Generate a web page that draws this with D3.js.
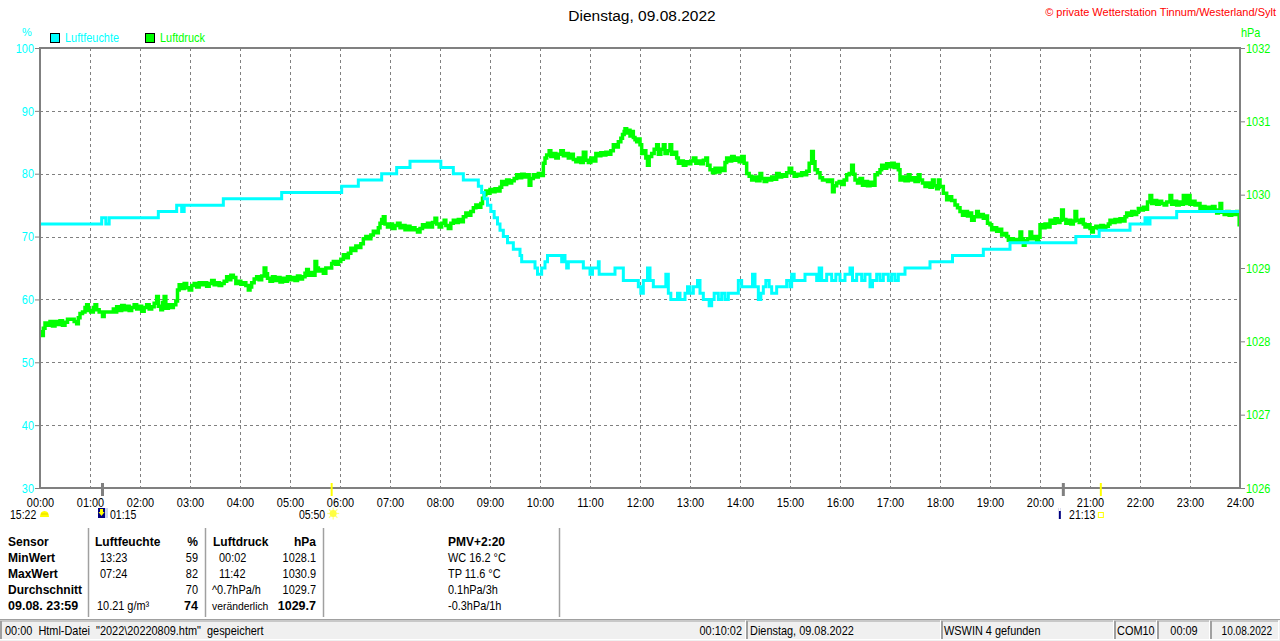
<!DOCTYPE html>
<html><head><meta charset="utf-8">
<script src="https://cdn.jsdelivr.net/npm/d3@7"></script>
<style>
html,body{margin:0;padding:0;background:#fff;}
svg{display:block;font-family:"Liberation Sans",Arial,sans-serif;}
text{white-space:pre;}
</style></head>
<body><svg id="c" width="1280" height="641"></svg>
<script>
// ---------- data ----------
const title = "Dienstag, 09.08.2022";
const copyright = "© private Wetterstation Tinnum/Westerland/Sylt";
const hourTicks = d3.range(0, 25).map(h => h * 60);
const hourLabels = hourTicks.map(m => String(m / 60).padStart(2, "0") + ":00");
const humidityTicks = [30, 40, 50, 60, 70, 80, 90, 100];
const pressureTicks = [1026, 1027, 1028, 1029, 1030, 1031, 1032];
const seriesNames = ["Luftfeuchte", "Luftdruck"];

// humidity (%) : [minute of day, value]
const humidity = [[0,72],[74,73],[79,72],[83,73],[142,74],[164,75],[170,74],[173,75],[220,76],[290,77],[362,78],[382,79],[410,80],[428,81],[444,82],[481,81],[496,80],[508,79],[526,78],[530,77],[533,76],[537,75],[541,74],[545,73],[549,72],[552,71],[556,70],[561,69],[568,68],[576,67],[578,66],[594,65],[597,64],[602,65],[606,66],[609,67],[626,66],[628,67],[630,66],[632,65],[634,66],[652,65],[660,64],[663,65],[670,66],[671,64],[690,65],[700,63],[718,62],[721,61],[724,63],[729,65],[732,63],[736,62],[751,64],[754,61],[757,60],[765,61],[768,60],[774,61],[777,62],[780,61],[784,62],[789,63],[792,61],[796,60],[803,59],[806,60],[809,61],[814,60],[818,61],[822,60],[826,61],[838,63],[842,62],[855,64],[858,62],[862,60],[865,61],[868,62],[871,63],[875,62],[878,61],[884,62],[896,63],[900,62],[902,64],[905,63],[918,64],[932,63],[935,65],[938,63],[944,64],[950,63],[955,64],[960,63],[966,64],[972,65],[975,63],[980,64],[986,63],[990,64],[996,62],[999,63],[1004,64],[1008,63],[1012,64],[1018,63],[1022,64],[1026,63],[1030,64],[1038,65],[1068,66],[1095,67],[1132,68],[1164,69],[1243,70],[1271,71],[1308,72],[1326,73],[1329,72],[1332,73],[1364,74],[1440,74]];

// pressure (hPa) : [minute of day, value]
const pressure = [[0,1028.13],[2,1028.08],[4,1028.18],[6,1028.25],[9,1028.22],[12,1028.27],[15,1028.21],[18,1028.27],[21,1028.23],[24,1028.28],[27,1028.22],[30,1028.26],[33,1028.30],[37,1028.30],[41,1028.27],[44,1028.24],[46,1028.32],[48,1028.38],[51,1028.40],[54,1028.46],[56,1028.50],[58,1028.42],[61,1028.40],[64,1028.46],[66,1028.50],[68,1028.43],[71,1028.40],[75,1028.34],[77,1028.40],[80,1028.40],[86,1028.40],[88,1028.44],[90,1028.40],[92,1028.47],[95,1028.42],[98,1028.49],[101,1028.43],[104,1028.48],[107,1028.42],[110,1028.46],[113,1028.50],[116,1028.44],[119,1028.48],[122,1028.41],[125,1028.46],[128,1028.50],[131,1028.44],[134,1028.47],[137,1028.52],[140,1028.61],[142,1028.48],[145,1028.43],[147,1028.53],[149,1028.61],[151,1028.45],[154,1028.50],[157,1028.46],[160,1028.50],[163,1028.55],[165,1028.70],[167,1028.77],[170,1028.72],[173,1028.79],[176,1028.73],[179,1028.70],[182,1028.76],[185,1028.79],[188,1028.74],[191,1028.80],[194,1028.77],[197,1028.80],[200,1028.75],[203,1028.79],[206,1028.83],[209,1028.77],[212,1028.80],[215,1028.76],[218,1028.79],[221,1028.82],[224,1028.88],[226,1028.84],[229,1028.90],[232,1028.87],[235,1028.79],[238,1028.82],[241,1028.78],[244,1028.80],[247,1028.76],[250,1028.70],[252,1028.74],[254,1028.80],[257,1028.85],[260,1028.88],[263,1028.84],[266,1028.89],[269,1029.00],[271,1028.92],[273,1028.86],[276,1028.82],[279,1028.88],[282,1028.83],[285,1028.87],[288,1028.81],[291,1028.86],[294,1028.82],[297,1028.88],[300,1028.84],[303,1028.87],[306,1028.83],[309,1028.89],[312,1028.85],[315,1028.88],[318,1028.93],[320,1028.98],[322,1028.90],[324,1028.94],[327,1028.90],[330,1029.09],[332,1029.00],[334,1028.96],[337,1028.98],[340,1028.93],[343,1029.00],[346,1029.00],[350,1029.06],[352,1029.09],[355,1029.05],[358,1029.09],[361,1029.12],[364,1029.18],[367,1029.14],[370,1029.20],[373,1029.27],[376,1029.24],[379,1029.30],[382,1029.28],[385,1029.33],[388,1029.40],[391,1029.43],[394,1029.40],[397,1029.45],[400,1029.50],[403,1029.48],[406,1029.55],[408,1029.61],[410,1029.66],[412,1029.70],[414,1029.60],[417,1029.56],[420,1029.60],[423,1029.54],[426,1029.58],[429,1029.61],[432,1029.55],[435,1029.58],[438,1029.52],[441,1029.57],[444,1029.52],[447,1029.55],[450,1029.52],[453,1029.49],[456,1029.54],[459,1029.59],[462,1029.56],[465,1029.61],[468,1029.56],[471,1029.62],[474,1029.68],[476,1029.60],[479,1029.56],[482,1029.61],[485,1029.65],[487,1029.58],[490,1029.54],[493,1029.61],[496,1029.65],[499,1029.62],[502,1029.66],[505,1029.63],[508,1029.70],[511,1029.75],[514,1029.72],[517,1029.77],[520,1029.82],[523,1029.86],[526,1029.83],[529,1029.88],[531,1029.95],[533,1030.00],[535,1030.05],[537,1030.02],[540,1030.07],[543,1030.04],[546,1030.08],[549,1030.05],[552,1030.10],[554,1030.18],[557,1030.14],[560,1030.20],[563,1030.16],[566,1030.19],[569,1030.22],[572,1030.27],[575,1030.23],[578,1030.28],[581,1030.24],[584,1030.27],[587,1030.13],[589,1030.22],[592,1030.27],[595,1030.24],[598,1030.29],[601,1030.26],[604,1030.43],[606,1030.50],[608,1030.54],[611,1030.60],[613,1030.52],[616,1030.56],[619,1030.50],[622,1030.55],[625,1030.60],[628,1030.53],[631,1030.56],[634,1030.50],[637,1030.55],[640,1030.48],[643,1030.45],[646,1030.50],[649,1030.44],[652,1030.58],[655,1030.47],[658,1030.44],[661,1030.50],[664,1030.46],[667,1030.56],[670,1030.53],[673,1030.57],[676,1030.54],[679,1030.58],[682,1030.55],[685,1030.60],[688,1030.68],[691,1030.65],[694,1030.72],[697,1030.77],[699,1030.82],[701,1030.86],[702,1030.90],[704,1030.84],[706,1030.88],[708,1030.80],[710,1030.86],[712,1030.78],[714,1030.75],[716,1030.72],[718,1030.76],[720,1030.68],[722,1030.56],[724,1030.60],[727,1030.50],[729,1030.40],[731,1030.52],[734,1030.56],[737,1030.62],[740,1030.68],[742,1030.55],[745,1030.62],[748,1030.68],[750,1030.56],[753,1030.60],[756,1030.68],[758,1030.55],[761,1030.58],[764,1030.50],[766,1030.43],[769,1030.46],[772,1030.40],[775,1030.45],[778,1030.42],[781,1030.46],[784,1030.50],[787,1030.43],[790,1030.46],[793,1030.42],[796,1030.47],[799,1030.50],[801,1030.40],[804,1030.34],[807,1030.30],[810,1030.36],[813,1030.31],[816,1030.36],[819,1030.33],[822,1030.44],[824,1030.50],[827,1030.46],[830,1030.52],[833,1030.47],[836,1030.50],[839,1030.45],[842,1030.52],[845,1030.43],[848,1030.29],[851,1030.25],[854,1030.20],[857,1030.24],[860,1030.19],[864,1030.29],[866,1030.22],[869,1030.18],[872,1030.22],[875,1030.20],[878,1030.24],[881,1030.21],[884,1030.29],[887,1030.24],[890,1030.27],[893,1030.25],[896,1030.30],[899,1030.36],[902,1030.30],[905,1030.25],[908,1030.28],[911,1030.26],[914,1030.30],[917,1030.27],[920,1030.32],[923,1030.43],[926,1030.59],[928,1030.45],[930,1030.34],[933,1030.30],[936,1030.23],[939,1030.20],[942,1030.20],[945,1030.18],[948,1030.20],[951,1030.04],[953,1030.12],[956,1030.16],[959,1030.18],[962,1030.14],[965,1030.20],[968,1030.27],[971,1030.29],[974,1030.40],[976,1030.28],[978,1030.20],[981,1030.16],[984,1030.22],[987,1030.13],[990,1030.18],[993,1030.12],[996,1030.17],[999,1030.13],[1002,1030.27],[1005,1030.30],[1008,1030.34],[1010,1030.40],[1013,1030.36],[1016,1030.42],[1019,1030.38],[1022,1030.43],[1025,1030.37],[1028,1030.41],[1030,1030.34],[1032,1030.20],[1035,1030.24],[1038,1030.19],[1042,1030.27],[1044,1030.20],[1047,1030.23],[1050,1030.18],[1054,1030.27],[1056,1030.20],[1059,1030.16],[1062,1030.11],[1065,1030.16],[1068,1030.10],[1071,1030.20],[1073,1030.12],[1076,1030.08],[1078,1030.20],[1080,1030.11],[1084,1030.02],[1088,1029.93],[1091,1029.97],[1094,1029.92],[1098,1029.86],[1101,1029.82],[1104,1029.77],[1107,1029.72],[1110,1029.77],[1113,1029.71],[1116,1029.75],[1118,1029.65],[1121,1029.70],[1124,1029.77],[1126,1029.70],[1129,1029.73],[1132,1029.68],[1135,1029.71],[1137,1029.61],[1140,1029.59],[1142,1029.52],[1145,1029.55],[1148,1029.50],[1151,1029.53],[1154,1029.45],[1157,1029.47],[1160,1029.43],[1162,1029.38],[1165,1029.40],[1168,1029.36],[1171,1029.39],[1174,1029.37],[1176,1029.49],[1178,1029.40],[1180,1029.31],[1182,1029.37],[1185,1029.40],[1188,1029.49],[1190,1029.40],[1193,1029.43],[1196,1029.38],[1198,1029.42],[1200,1029.59],[1203,1029.55],[1206,1029.60],[1209,1029.56],[1212,1029.65],[1215,1029.61],[1218,1029.67],[1221,1029.62],[1224,1029.65],[1226,1029.79],[1228,1029.66],[1231,1029.61],[1234,1029.65],[1237,1029.60],[1240,1029.64],[1242,1029.77],[1244,1029.65],[1247,1029.62],[1250,1029.66],[1252,1029.60],[1254,1029.56],[1257,1029.59],[1260,1029.54],[1262,1029.49],[1264,1029.55],[1267,1029.57],[1270,1029.54],[1273,1029.58],[1276,1029.55],[1279,1029.57],[1282,1029.60],[1284,1029.65],[1287,1029.62],[1290,1029.66],[1293,1029.63],[1296,1029.67],[1299,1029.64],[1302,1029.70],[1304,1029.75],[1307,1029.72],[1310,1029.77],[1313,1029.73],[1316,1029.76],[1318,1029.81],[1321,1029.79],[1324,1029.83],[1327,1029.80],[1329,1029.90],[1332,1029.99],[1334,1029.88],[1337,1029.92],[1340,1029.87],[1343,1029.91],[1346,1029.88],[1349,1029.86],[1352,1029.90],[1356,1029.99],[1358,1029.87],[1361,1029.91],[1364,1029.86],[1367,1029.90],[1370,1029.87],[1372,1029.99],[1374,1029.88],[1376,1029.90],[1378,1029.99],[1380,1029.87],[1383,1029.91],[1386,1029.86],[1389,1029.88],[1392,1029.81],[1395,1029.84],[1398,1029.79],[1401,1029.83],[1404,1029.80],[1407,1029.84],[1410,1029.79],[1412,1029.75],[1414,1029.78],[1416,1029.88],[1418,1029.76],[1421,1029.73],[1424,1029.77],[1427,1029.72],[1430,1029.76],[1433,1029.73],[1436,1029.77],[1439,1029.59],[1440,1029.59]];

// astronomical events under the axis: [minute, tick colour key]
const eventTicks = [[75,"moon"],[350,"sun"],[1228,"moon"],[1273,"sun"]];
const eventLabels = [["15:22", 0, "cloud"], ["01:15", 75, "moonrise"], ["05:50", 350, "sunrise"], ["21:13", 1273, "sunset"]];

// statistics table
const tableHead = ["Sensor", "Luftfeuchte", "%", "Luftdruck", "hPa", "PMV+2:20"];
const rowNames = ["MinWert", "MaxWert", "Durchschnitt", "09.08. 23:59"];
const humTimes = ["13:23", "07:24", "", "10.21 g/m³"];
const humValues = ["59", "82", "70", "74"];
const presTimes = ["00:02", "11:42", "^0.7hPa/h", "veränderlich"];
const presValues = ["1028.1", "1030.9", "1029.7", "1029.7"];
const pmvLines = ["WC 16.2 °C", "TP 11.6 °C", "0.1hPa/3h", "-0.3hPa/1h"];

// status bar
const statusTexts = ["00:00  Html-Datei  \"2022\\20220809.htm\"  gespeichert", "00:10:02", "Dienstag, 09.08.2022", "WSWIN 4 gefunden", "COM10", "00:09", "10.08.2022"];

// ---------- drawing ----------
(function draw() {
const svg = d3.select("#c");
const W = 1280, H = 641;
const pL = 40, pR = 1240, pT = 48, pB = 488;
const x = d3.scaleLinear().domain([0, 1440]).range([pL, pR]);
const yL = d3.scaleLinear().domain([30, 100]).range([pB, pT]);
const yR = d3.scaleLinear().domain([1026, 1032]).range([pB, pT]);
const CYAN = "#00ffff", GREEN = "#00ff00", GRID = "#808080";
const FS = 13;
const SQZ = 0.84;

// narrow look: compress glyphs horizontally
function condense(sel, f) {
  sel.each(function () {
    const L = this.getComputedTextLength();
    if (L > 0) {
      this.setAttribute("textLength", (L * (f || SQZ)).toFixed(2));
      this.setAttribute("lengthAdjust", "spacingAndGlyphs");
    }
  });
  return sel;
}

svg.append("rect").attr("width", W).attr("height", H).attr("fill", "#fff");

// title + copyright
svg.append("text").attr("x", 642).attr("y", 21).attr("text-anchor", "middle")
  .attr("font-size", 15.5).attr("fill", "#000").text(title);
svg.append("text").attr("x", 1276).attr("y", 16).attr("text-anchor", "end")
  .attr("font-size", 11).attr("fill", "#ff0000").text(copyright);

// legend
const legend = [[seriesNames[0], CYAN, 50], [seriesNames[1], GREEN, 145]];
legend.forEach(([name, col, lx]) => {
  svg.append("rect").attr("x", lx + 0.5).attr("y", 33.5).attr("width", 9).attr("height", 9)
    .attr("fill", col).attr("stroke", "#000").attr("stroke-width", 1);
  condense(svg.append("text").attr("x", lx + 15).attr("y", 42).attr("font-size", FS).attr("fill", col).text(name));
});
svg.append("text").attr("x", 27).attr("y", 36).attr("text-anchor", "middle").attr("font-size", 11).attr("fill", CYAN).text("%");
condense(svg.append("text").attr("x", 1241).attr("y", 37).attr("font-size", FS).attr("fill", GREEN).text("hPa"));

// grid
const g = svg.append("g");
g.selectAll("line.h").data(humidityTicks.filter(v => v > 30 && v < 100)).join("line")
  .attr("x1", pL).attr("x2", pR).attr("y1", d => Math.round(yL(d)) + 0.5).attr("y2", d => Math.round(yL(d)) + 0.5)
  .attr("stroke", GRID).attr("stroke-dasharray", "3,3");
g.selectAll("line.v").data(hourTicks.filter(m => m > 0 && m < 1440)).join("line")
  .attr("y1", pT).attr("y2", pB).attr("x1", d => Math.round(x(d)) + 0.5).attr("x2", d => Math.round(x(d)) + 0.5)
  .attr("stroke", GRID).attr("stroke-dasharray", "3,3");

// axes
const axL = svg.append("g").attr("transform", `translate(${pL},0)`)
  .call(d3.axisLeft(yL).tickValues(humidityTicks).tickSize(5).tickPadding(1).tickFormat(d3.format("d")));
axL.select(".domain").remove();
axL.selectAll("line").attr("stroke", GRID);
condense(axL.selectAll("text").attr("fill", CYAN).attr("font-size", FS).attr("font-family", "Liberation Sans, Arial, sans-serif"));

const axR = svg.append("g").attr("transform", `translate(${pR},0)`)
  .call(d3.axisRight(yR).tickValues(pressureTicks).tickSize(5).tickPadding(1).tickFormat(d3.format("d")));
axR.select(".domain").remove();
axR.selectAll("line").attr("stroke", GRID);
condense(axR.selectAll("text").attr("fill", GREEN).attr("font-size", FS).attr("font-family", "Liberation Sans, Arial, sans-serif"));

const axB = svg.append("g").attr("transform", `translate(0,${pB})`)
  .call(d3.axisBottom(x).tickValues(hourTicks).tickSize(0).tickPadding(9.5).tickFormat((d, i) => hourLabels[i]));
axB.select(".domain").remove();
condense(axB.selectAll("text").attr("fill", "#000").attr("font-size", FS).attr("font-family", "Liberation Sans, Arial, sans-serif"));

// series
const lineH = d3.line().curve(d3.curveStepAfter).x(d => x(d[0])).y(d => yL(d[1]));
const lineP = d3.line().curve(d3.curveStepAfter).x(d => x(d[0])).y(d => yR(d[1]));
svg.append("clipPath").attr("id", "pc").append("rect")
  .attr("x", pL).attr("y", pT).attr("width", pR - pL).attr("height", pB - pT);
svg.append("path").datum(pressure).attr("d", lineP).attr("fill", "none")
  .attr("stroke", GREEN).attr("stroke-width", 3.5).attr("clip-path", "url(#pc)");
svg.append("path").datum(humidity).attr("d", lineH).attr("fill", "none")
  .attr("stroke", CYAN).attr("stroke-width", 3).attr("clip-path", "url(#pc)");

// frame
svg.append("rect").attr("x", pL).attr("y", pT).attr("width", pR - pL).attr("height", pB - pT)
  .attr("fill", "none").attr("stroke", GRID).attr("stroke-width", 2);

// event ticks
svg.selectAll("line.ev").data(eventTicks).join("line")
  .attr("x1", d => x(d[0])).attr("x2", d => x(d[0])).attr("y1", 483).attr("y2", 496)
  .attr("stroke", d => d[1] === "sun" ? "#ffff00" : GRID).attr("stroke-width", d => d[1] === "sun" ? 2 : 3);

function t(xp, yp, s, opt = {}) {
  const e = svg.append("text").attr("x", xp).attr("y", yp).attr("fill", "#000").text(s);
  if (opt.end) e.attr("text-anchor", "end");
  if (opt.bold) e.attr("font-weight", "bold").attr("font-size", opt.size || 12);
  else { e.attr("font-size", opt.size || FS); condense(e, opt.sq); }
  return e;
}

// event labels & icons
const ly = 518.5;
eventLabels.forEach(([lab, m, kind]) => {
  const ex = x(m);
  if (kind === "cloud") {
    t(10, ly, lab, {size: 12.5});
    svg.append("path").attr("d", "M40,517 Q40,511 44.5,511 Q49,511 49,517 Z").attr("fill", "#ffff00");
    svg.append("path").attr("d", "M41,514 L48,514").attr("stroke", "#e0c000").attr("stroke-width", 0.7);
  } else if (kind === "moonrise") {
    svg.append("rect").attr("x", ex - 4.5).attr("y", 508).attr("width", 10).attr("height", 10).attr("fill", "#c8d4f0");
    svg.append("rect").attr("x", ex - 4.5).attr("y", 508).attr("width", 7).attr("height", 10).attr("fill", "#000080");
    svg.append("path").attr("d", `M${ex - 2.5},509 L${ex + 0.5},509 L${ex + 0.5},512 L${ex + 2},512 L${ex - 1},516 L${ex - 4},512 L${ex - 2.5},512 Z`).attr("fill", "#ffff00");
    t(ex + 7.5, ly, lab, {size: 12.5});
  } else if (kind === "sunrise") {
    t(ex - 6.5, ly, lab, {end: true, size: 12.5});
    const cx = ex + 1.5, cy = 513.5;
    d3.range(8).forEach(k => {
      const a = k * Math.PI / 4;
      svg.append("line").attr("x1", cx + Math.cos(a) * 3).attr("y1", cy + Math.sin(a) * 3)
        .attr("x2", cx + Math.cos(a) * 6).attr("y2", cy + Math.sin(a) * 6)
        .attr("stroke", "#ffff80").attr("stroke-width", 1.2);
    });
    svg.append("circle").attr("cx", cx).attr("cy", cy).attr("r", 3.5).attr("fill", "#ffff40");
  } else if (kind === "sunset") {
    svg.append("rect").attr("x", ex - 42).attr("y", 508).attr("width", 2).attr("height", 11).attr("fill", "#000080");
    svg.append("rect").attr("x", ex - 42).attr("y", 508).attr("width", 2).attr("height", 3).attr("fill", "#ffffff");
    t(ex - 5.5, ly, lab, {end: true, size: 12.5});
    svg.append("rect").attr("x", ex - 2.5).attr("y", 512.5).attr("width", 5).attr("height", 5)
      .attr("fill", "#fff").attr("stroke", "#ffff00").attr("stroke-width", 1);
  }
});

// table
const rowY = [546, 562, 578, 594, 610];
const sepX = [88, 205, 323, 559];
sepX.forEach(sx => svg.append("line").attr("x1", sx + 0.5).attr("x2", sx + 0.5).attr("y1", 528).attr("y2", 617)
  .attr("stroke", "#a0a0a0").attr("stroke-width", 1.5));
t(8, rowY[0], tableHead[0], {bold: true});
t(95, rowY[0], tableHead[1], {bold: true});
t(198, rowY[0], tableHead[2], {bold: true, end: true});
t(213, rowY[0], tableHead[3], {bold: true});
t(316, rowY[0], tableHead[4], {bold: true, end: true});
t(448, rowY[0], tableHead[5], {bold: true});
rowNames.forEach((r, i) => {
  const last = i === 3;
  t(8, rowY[i + 1], r, {bold: true, size: last ? 12.5 : 12});
  t(last ? 97 : 100, rowY[i + 1], humTimes[i]);
  if (last) t(198, rowY[i + 1], humValues[i], {bold: true, end: true, size: 12.5});
  else t(198, rowY[i + 1], humValues[i], {end: true});
  if (last) t(212, rowY[i + 1], presTimes[i], {size: 11.5, sq: 0.9});
  else t(i < 2 ? 219 : 212, rowY[i + 1], presTimes[i]);
  if (last) t(316, rowY[i + 1], presValues[i], {bold: true, end: true, size: 12.5});
  else t(316, rowY[i + 1], presValues[i], {end: true});
  t(448, rowY[i + 1], pmvLines[i]);
});

// status bar
svg.append("rect").attr("x", 0).attr("y", 619).attr("width", W).attr("height", 22).attr("fill", "#f0f0f0");
svg.append("line").attr("x1", 0).attr("x2", W).attr("y1", 619.5).attr("y2", 619.5).attr("stroke", "#a0a0a0");
const panels = [[0, 745], [746, 940], [941, 1113], [1114, 1156], [1157, 1209], [1210, 1278]];
panels.forEach(([a, b]) => {
  svg.append("line").attr("x1", a + 1).attr("x2", a + 1).attr("y1", 621).attr("y2", 639).attr("stroke", "#a0a0a0").attr("stroke-width", 2);
  svg.append("line").attr("x1", a).attr("x2", b).attr("y1", 621).attr("y2", 621).attr("stroke", "#a0a0a0").attr("stroke-width", 1);
  svg.append("line").attr("x1", a).attr("x2", b).attr("y1", 639.5).attr("y2", 639.5).attr("stroke", "#ffffff").attr("stroke-width", 1);
  svg.append("line").attr("x1", b + 0.5).attr("x2", b + 0.5).attr("y1", 621).attr("y2", 640).attr("stroke", "#ffffff").attr("stroke-width", 1);
});
const sy = 634.5;
const st = (xp, s, anchor, fs) => condense(svg.append("text").attr("x", xp).attr("y", sy).attr("font-size", fs || 13)
  .attr("fill", "#000").attr("text-anchor", anchor || "start").text(s));
st(5, statusTexts[0]);
st(742, statusTexts[1], "end");
st(750, statusTexts[2]);
st(944, statusTexts[3]);
st(1117, statusTexts[4]);
st(1184, statusTexts[5], "middle");
st(1272, statusTexts[6], "end", 12);
})();
</script></body></html>
